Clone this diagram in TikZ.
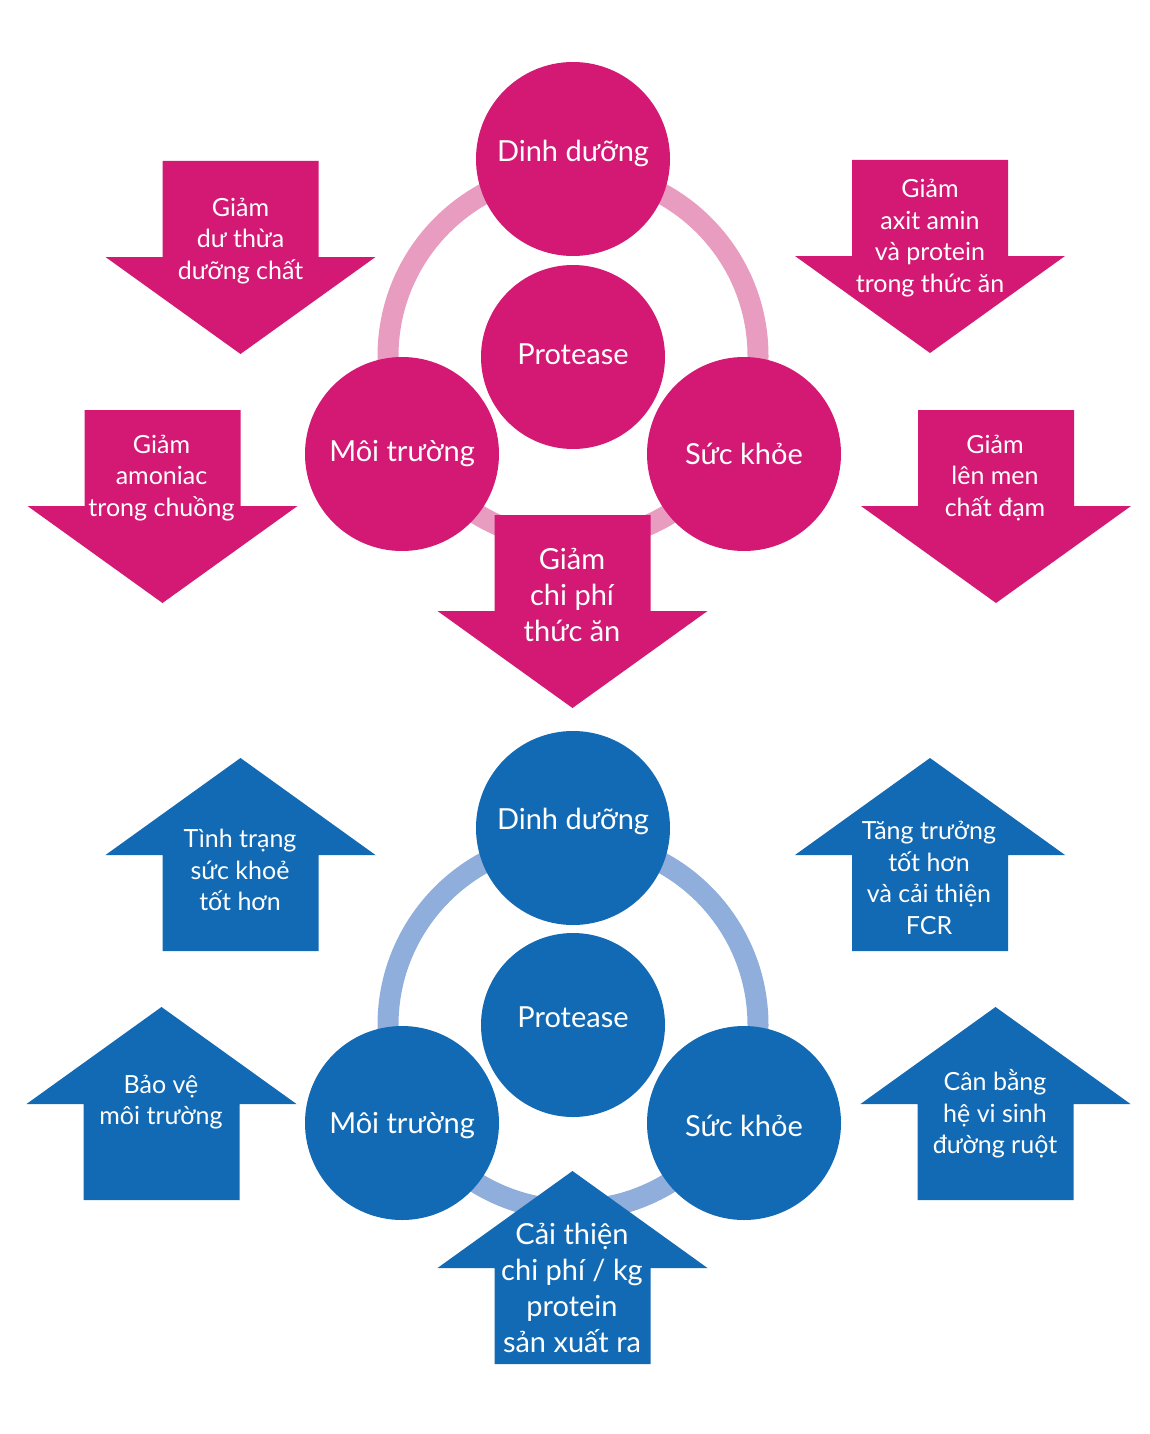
\documentclass[tikz,border=0pt]{standalone}
\usepackage{fontspec}
\setmainfont{Lato}
\definecolor{mag}{RGB}{211,25,116}
\definecolor{pinkring}{RGB}{232,156,192}
\definecolor{blu}{RGB}{19,106,180}
\definecolor{bluering}{RGB}{143,174,220}
\newcommand\arrdown[3]{\fill[#3] (#1-78,#2) -- (#1+78,#2) -- (#1+78,#2+96) -- (#1+135,#2+96) -- (#1,#2+193) -- (#1-135,#2+96) -- (#1-78,#2+96) -- cycle;}
\newcommand\arrup[3]{\fill[#3] (#1,#2) -- (#1+135,#2+97) -- (#1+78,#2+97) -- (#1+78,#2+193) -- (#1-78,#2+193) -- (#1-78,#2+97) -- (#1-135,#2+97) -- cycle;}
\begin{document}
\begin{tikzpicture}[x=1pt,y=-1pt,
  bigc/.style={circle,inner sep=0pt,minimum size=194pt},
  midc/.style={circle,inner sep=0pt,minimum size=184pt},
  clabel/.style={text=white,inner sep=0pt,font=\fontsize{29}{35}\selectfont},
  small/.style={text=white,align=center,inner sep=0pt,font=\fontsize{25}{31.5}\selectfont},
  large/.style={text=white,align=center,inner sep=0pt,font=\fontsize{29}{36}\selectfont}]
\useasboundingbox (0,0) rectangle (1150,1434);
\fill[white] (0,0) rectangle (1150,1434);
% ---------- top (pink) ----------
\draw[pinkring,line width=21pt] (573,356) circle[radius=185];
\node[bigc,fill=mag] (tdinh) at (573,159) {};
\node[midc,fill=mag] (tprot) at (573,357) {};
\node[bigc,fill=mag] (tmoi) at (402,454) {};
\node[bigc,fill=mag] (tsuc) at (744,454) {};
\node[clabel] (ltdinh) at (573,153) {Dinh dưỡng};
\node[clabel] (ltprot) at (573,354) {Protease};
\node[clabel] (ltmoi) at (402,454) {Môi trường};
\node[clabel] (ltsuc) at (744,454) {Sức khỏe};
\arrdown{240.5}{161}{mag}
\arrdown{930}{160}{mag}
\arrdown{162.5}{410}{mag}
\arrdown{996}{410}{mag}
\arrdown{572.5}{515}{mag}
\node[small] (t1) at (240.5,241) {Giảm\\dư thừa\\dưỡng chất};
\node[small] (t2) at (930,238) {Giảm\\axit amin\\và protein\\trong thức ăn};
\node[small] (t3) at (161.5,478) {Giảm\\amoniac\\trong chuồng};
\node[small] (t4) at (995,478) {Giảm\\lên men\\chất đạm};
\node[large] (t5) at (572,595) {Giảm\\chi phí\\thức ăn};
% ---------- bottom (blue) ----------
\draw[bluering,line width=21pt] (573,1025) circle[radius=185];
\node[bigc,fill=blu] (bdinh) at (573,828) {};
\node[midc,fill=blu] (bprot) at (573,1025) {};
\node[bigc,fill=blu] (bmoi) at (402,1123) {};
\node[bigc,fill=blu] (bsuc) at (744,1123) {};
\node[clabel] (lbdinh) at (573,821) {Dinh dưỡng};
\node[clabel] (lbprot) at (573,1017) {Protease};
\node[clabel] (lbmoi) at (402,1126) {Môi trường};
\node[clabel] (lbsuc) at (744,1126) {Sức khỏe};
\arrup{240.5}{758}{blu}
\arrup{930}{758}{blu}
\arrup{161.5}{1007}{blu}
\arrup{995.5}{1007}{blu}
\arrup{572.5}{1171}{blu}
\node[small] (b1) at (240,870) {Tình trạng\\sức khoẻ\\tốt hơn};
\node[small] (b2) at (929,878) {Tăng trưởng\\tốt hơn\\và cải thiện\\FCR};
\node[small] (b3) at (161,1102) {Bảo vệ\\môi trường};
\node[small] (b4) at (995,1114) {Cân bằng\\hệ vi sinh\\đường ruột};
\node[large] (b5) at (572,1288) {Cải thiện\\chi phí / kg\\protein\\sản xuất ra};
\end{tikzpicture}
\end{document}
